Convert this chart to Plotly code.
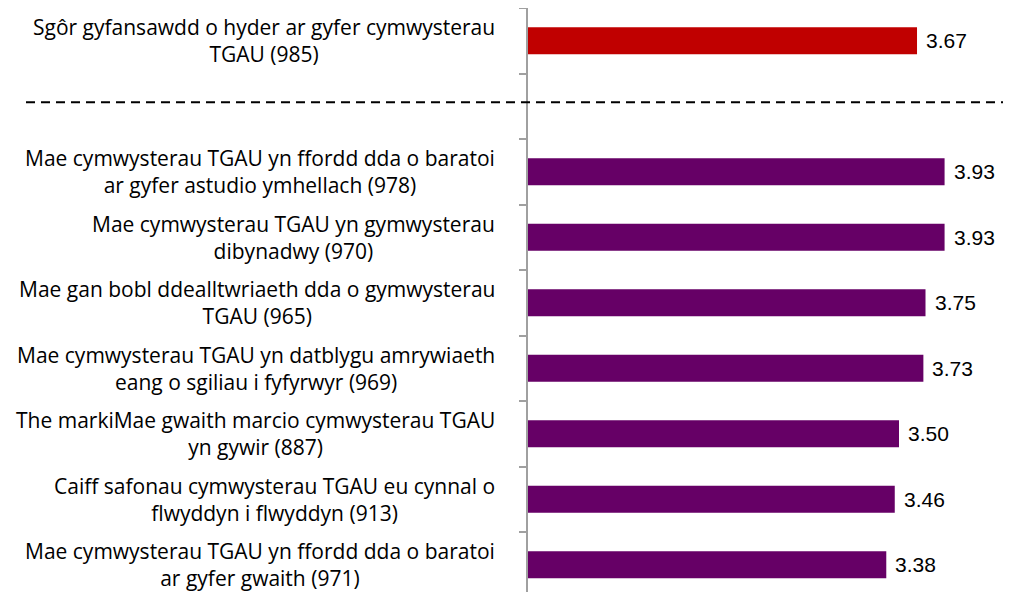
import plotly.graph_objects as go

# Data (top to bottom)
labels = [
    "Sgôr gyfansawdd o hyder ar gyfer cymwysterau<br>TGAU (985)",
    " ",
    "Mae cymwysterau TGAU yn ffordd dda o baratoi<br>ar gyfer astudio ymhellach (978)",
    "Mae cymwysterau TGAU yn gymwysterau<br>dibynadwy (970)",
    "Mae gan bobl ddealltwriaeth dda o gymwysterau<br>TGAU (965)",
    "Mae cymwysterau TGAU yn datblygu amrywiaeth<br>eang o sgiliau i fyfyrwyr (969)",
    "The markiMae gwaith marcio cymwysterau TGAU<br>yn gywir (887)",
    "Caiff safonau cymwysterau TGAU eu cynnal o<br>flwyddyn i flwyddyn (913)",
    "Mae cymwysterau TGAU yn ffordd dda o baratoi<br>ar gyfer gwaith (971)",
]
values = [3.67, None, 3.93, 3.93, 3.75, 3.73, 3.50, 3.46, 3.38]
value_text = ["3.67", "", "3.93", "3.93", "3.75", "3.73", "3.50", "3.46", "3.38"]
colors = ["#C00000", "#FFFFFF"] + ["#660066"] * 7

fig = go.Figure()
fig.add_trace(go.Bar(
    y=labels, x=values, orientation="h",
    marker=dict(color=colors, line=dict(width=0)),
    width=0.41, hoverinfo="skip",
))

order_bottom_up = labels[::-1]
n = len(labels)

# the page body adds an 8px offset
W, H = 1003, 584
ml, mr, mt, mb = 520, 0, 0, 0
plot_h = H - mt - mb
spacing = 65.5
span = plot_h / spacing
top = n - 0.5

fig.update_layout(
    width=W, height=H,
    margin=dict(l=ml, r=mr, t=mt, b=mb, autoexpand=False),
    plot_bgcolor="white", paper_bgcolor="white",
    showlegend=False,
    xaxis=dict(range=[0, (W - ml - mr) / 106.0], visible=False, fixedrange=True),
    yaxis=dict(
        type="category", categoryorder="array", categoryarray=order_bottom_up,
        range=[top - span, top], automargin=False,
        showticklabels=False, showgrid=False, zeroline=False,
        showline=True, linecolor="#A0A0A0", linewidth=1.5,
        ticks="outside", tickson="boundaries", ticklen=7, tickcolor="#A0A0A0", tickwidth=1.5,
    ),
)

annotations = []
for lab, v, t in zip(labels, values, value_text):
    if lab.strip():
        annotations.append(dict(
            x=0, xref="paper", y=lab, yref="y", text=lab, showarrow=False,
            xanchor="right", xshift=-31, align="center",
            font=dict(family="Open Sans", size=21, color="#000000"),
        ))
    if v is not None:
        annotations.append(dict(
            x=v, xref="x", y=lab, yref="y", text=t, showarrow=False,
            xanchor="left", xshift=7,
            font=dict(family="Liberation Sans, Arial", size=21, color="#000000"),
        ))
fig.update_layout(annotations=annotations)

# dashed separator in the blank category
blank_idx = order_bottom_up.index(" ")
fig.add_shape(
    type="line", xref="paper", yref="y",
    x0=-502 / (W - ml - mr), x1=1.0,
    y0=blank_idx + 0.06, y1=blank_idx + 0.06,
    line=dict(color="black", width=2, dash="9px,6px"),
)

fig.write_html("out.html")
